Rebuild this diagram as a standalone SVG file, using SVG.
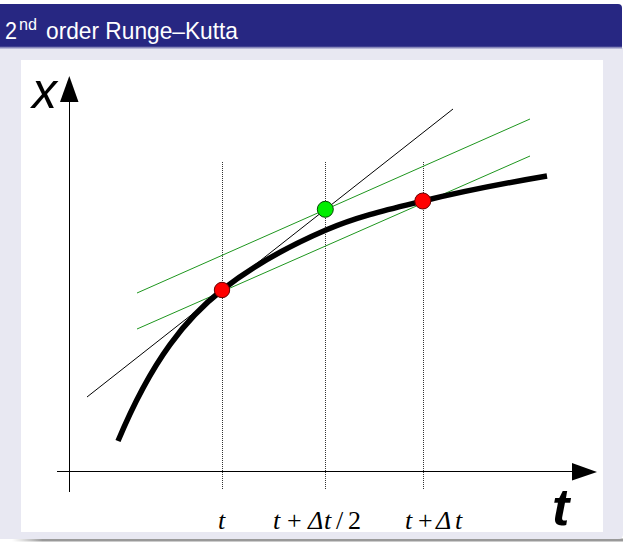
<svg xmlns="http://www.w3.org/2000/svg" width="626" height="543" viewBox="0 0 626 543">
<defs>
<style>
.axis{stroke:#000;stroke-width:1;fill:none}
.grid{stroke:#333;stroke-width:1;stroke-dasharray:1 1;fill:none}
.thin{stroke:#000;stroke-width:1;fill:none}
.grn{stroke:#1e961e;stroke-width:1;fill:none}
.curve{stroke:#000;stroke-width:5.5;fill:none;stroke-linecap:butt}
.red{fill:#ff0000;stroke:#600;stroke-width:1}
.green{fill:#00ee00;stroke:#040;stroke-width:1}
.lbl{font-family:"Liberation Serif",serif;font-style:italic;font-size:26px;fill:#000}
.up{font-style:normal}
.ax{font-family:"Liberation Sans",Arial,sans-serif;font-style:italic;fill:#000}
.title{font-family:"Liberation Sans",Arial,sans-serif;fill:#fff}
</style>
<linearGradient id="sh" x1="0" y1="0" x2="1" y2="0">
<stop offset="0" stop-color="#aaa" stop-opacity="0"/>
<stop offset="0.05" stop-color="#999"/>
<stop offset="1" stop-color="#999"/>
</linearGradient>
<linearGradient id="tb" x1="0" y1="0" x2="0" y2="1">
<stop offset="0" stop-color="#5a5aa0"/>
<stop offset="1" stop-color="#e8e8f2"/>
</linearGradient>
</defs>
<rect width="626" height="543" fill="#fff"/>
<g id="frame">
<rect x="12" y="538.5" width="611" height="3" fill="url(#sh)"/>
<path d="M0 48 H623 V534 Q623 539 618 539 H0 Z" fill="#e8e8f2"/>
<path d="M0 4 H618 Q622 4 622 8 V47 H0 Z" fill="#272782"/>
<rect x="0" y="46.5" width="622" height="3" fill="url(#tb)"/>
<rect x="21" y="60" width="582" height="472" fill="#fff"/>
<text class="title" x="5" y="39" font-size="24" textLength="12" lengthAdjust="spacingAndGlyphs">2</text>
<text class="title" x="19" y="29.5" font-size="16" textLength="18" lengthAdjust="spacingAndGlyphs">nd</text>
<text class="title" x="46" y="39" font-size="24" textLength="192" lengthAdjust="spacingAndGlyphs">order Runge–Kutta</text>
</g>
<g id="axes">
<line class="axis" x1="69.5" y1="100" x2="69.5" y2="492"/>
<polygon points="69.3,76 60,102 78.5,102" fill="#000"/>
<line class="axis" x1="57" y1="471.5" x2="575" y2="471.5"/>
<polygon points="597,472 572,463 572,480.5" fill="#000"/>
<text class="ax" x="32" y="108" font-size="50">x</text>
<text class="ax" x="552" y="525" font-size="52" font-weight="bold">t</text>
</g>
<g id="connectors">
<line class="grid" x1="222.5" y1="162" x2="222.5" y2="490"/>
<line class="grid" x1="325.5" y1="162" x2="325.5" y2="490"/>
<line class="grid" x1="423.5" y1="162" x2="423.5" y2="490"/>
<line class="thin" x1="87" y1="397" x2="453" y2="109"/>
<line class="grn" x1="137" y1="293" x2="530" y2="119"/>
<line class="grn" x1="137" y1="329" x2="530" y2="156"/>
<path class="curve" d="M118 441 C152.67 357.8 187.33 317.3 222 290 C256.67 262.72 291.33 244.91 326 230 C358.33 216.1 390.67 208.92 423 201 C464.33 190.87 505.67 183.03 547 176"/>
</g>
<g id="p1"><circle class="red" cx="222" cy="290" r="7.7"/></g>
<g id="p2"><circle class="green" cx="325.3" cy="209.3" r="8"/></g>
<g id="p3"><circle class="red" cx="422.8" cy="201" r="8"/></g>
<g id="labels">
<text class="lbl" x="218" y="529">t</text>
<text class="lbl" y="529"><tspan x="273">t</tspan><tspan class="up" x="287">+</tspan><tspan x="308">Δ</tspan><tspan x="324">t</tspan><tspan class="up" x="336">/</tspan><tspan class="up" x="348">2</tspan></text>
<text class="lbl" y="529"><tspan x="405">t</tspan><tspan class="up" x="418">+</tspan><tspan x="436">Δ</tspan><tspan x="455">t</tspan></text>
</g>
</svg>
